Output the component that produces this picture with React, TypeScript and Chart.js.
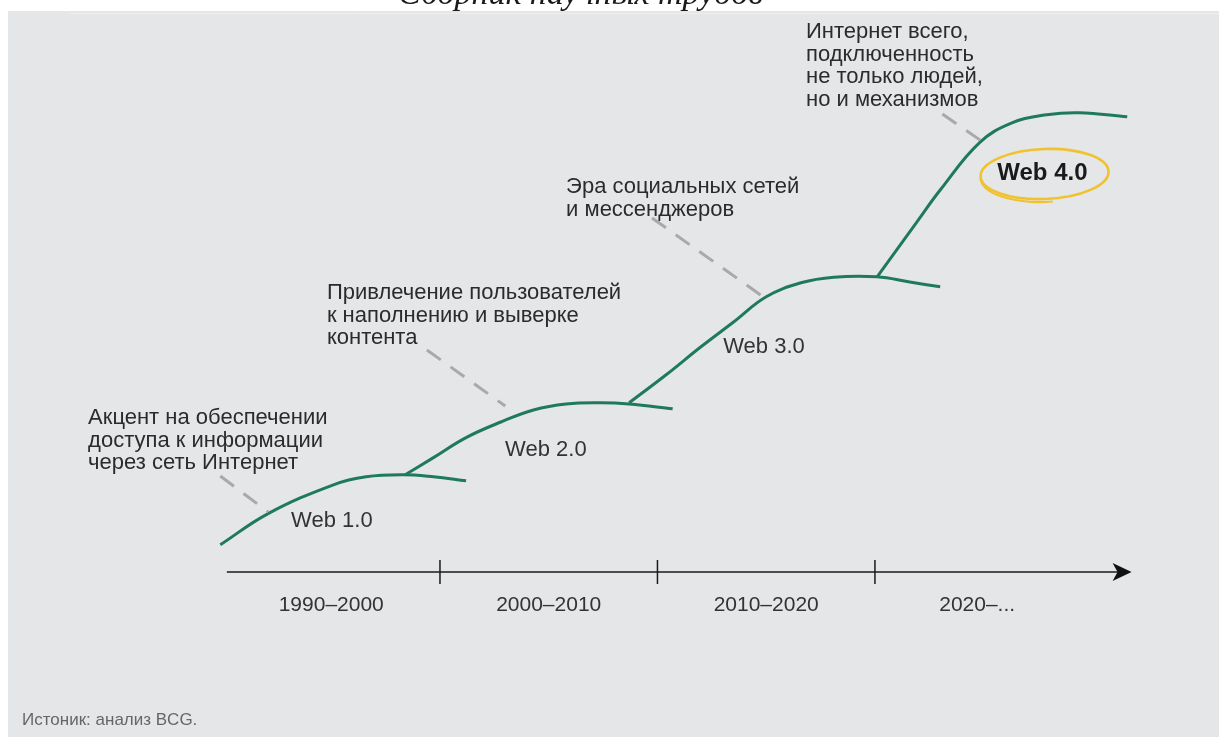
import React, { useEffect, useRef } from "react";
import { Chart, registerables } from "chart.js";

Chart.register(...registerables);

// ---- scale ranges (years on x, "development level" on y) ----
const X_MIN = 1979.77;
const X_MAX = 2035.82;
const Y_MIN = -41.25;
const Y_MAX = 143;

// ---- curves ----
const web1Years = [1989.9, 1992.1, 1995.1, 1996.6, 1998.3, 1999.7, 2001.2];
const web1Levels = [6.8, 14.6, 21.8, 23.8, 24.3, 23.8, 22.8];

const web2Years = [1998.4, 1999.7, 2001.2, 2002.8, 2004.3, 2005.8, 2007.4, 2008.7, 2010.7];
const web2Levels = [24.3, 28.6, 33.6, 37.5, 40.5, 42.0, 42.3, 42.0, 40.8];

const web3Years = [2008.7, 2010.4, 2012.0, 2013.5, 2015.0, 2016.6, 2018.1, 2020.1, 2021.6, 2023.0];
const web3Levels = [42.3, 49.3, 56.3, 62.5, 68.8, 72.3, 73.7, 73.8, 72.5, 71.3];

const web4Years = [2020.1, 2021.9, 2023.0, 2024.8, 2026.3, 2027.9, 2029.4, 2031.6];
const web4Levels = [73.8, 87.3, 95.5, 107.3, 112.3, 114.3, 114.8, 113.8];

// ---- dashed leader lines ----
const leaderYears = [
  [1989.9, 1992.1],
  [1999.4, 2003.0],
  [2009.75, 2014.94],
  [2023.1, 2025.1],
];
const leaderLevels = [
  [24.0, 15.0],
  [55.5, 41.5],
  [88.5, 68.5],
  [114.5, 107.0],
];

// ---- timeline ----
const timelineStart = 1990.2;
const timelineEnd = 2031.8;
const eraBounds = [2000, 2010, 2020];
const eraLabels = ["1990–2000", "2000–2010", "2010–2020", "2020–..."];
const eraLabelYears = [1995, 2005, 2015, 2024.7];

// ---- stage labels ----
const stageLabels = ["Web 1.0", "Web 2.0", "Web 3.0", "Web 4.0"];
const stageYears = [1995.03, 2004.87, 2014.9, 2027.7];
const stageLevels = [12.75, 30.5, 56.25, 99.75];

// ---- annotations ----
const annotationLines = [
  ["Акцент на обеспечении", "доступа к информации", "через сеть Интернет"],
  ["Привлечение пользователей", "к наполнению и выверке", "контента"],
  ["Эра социальных сетей", "и мессенджеров"],
  ["Интернет всего,", "подключенность", "не только людей,", "но и механизмов"],
];
const annotationYears = [1983.82, 1994.8, 2005.8, 2016.83];
const annotationLevels = [38.5, 69.75, 96.25, 135];

const highlightYear = 2027.8;
const highlightLevel = 99.5;

const headerText = "Сборник научных трудов";
const sourceText = "Истоник: анализ BCG.";

const GREEN = "#1f7a5c";
const DASH = "#a8a9aa";
const SANS = '"Liberation Sans", Arial, sans-serif';

const pts = (xs: number[], ys: number[]) => xs.map((x, i) => ({ x, y: ys[i] }));

const decorPlugin = {
  id: "decor",
  beforeDraw(chart: any) {
    const ctx = chart.ctx as CanvasRenderingContext2D;
    const w = chart.width;
    const h = chart.height;
    ctx.save();
    ctx.fillStyle = "#ffffff";
    ctx.fillRect(0, 0, w, h);
    ctx.fillStyle = "#e4e6e8";
    ctx.fillRect(8, 11, w - 8, h - 11);
    ctx.strokeStyle = "#eceef0";
    ctx.lineWidth = 1;
    ctx.beginPath();
    ctx.moveTo(70, 13.5);
    ctx.lineTo(w, 13.5);
    ctx.stroke();
    // clipped header
    ctx.fillStyle = "#1a1a1a";
    ctx.font = 'italic 34px "Liberation Serif", "DejaVu Serif", serif';
    ctx.textAlign = "left";
    ctx.textBaseline = "alphabetic";
    ctx.fillText(headerText, 398, 4, 370);
    ctx.restore();
  },
  afterDatasetsDraw(chart: any) {
    const ctx = chart.ctx as CanvasRenderingContext2D;
    const xs = chart.scales.x;
    const ys = chart.scales.y;
    const X = (v: number) => xs.getPixelForValue(v);
    const Y = (v: number) => ys.getPixelForValue(v);
    ctx.save();

    // timeline
    const ty = Y(0);
    const x0 = X(timelineStart);
    const x1 = X(timelineEnd);
    ctx.strokeStyle = "#1a1a1a";
    ctx.lineWidth = 1.6;
    ctx.beginPath();
    ctx.moveTo(x0, ty);
    ctx.lineTo(x1 - 10, ty);
    ctx.stroke();
    ctx.fillStyle = "#111";
    ctx.beginPath();
    ctx.moveTo(x1, ty);
    ctx.lineTo(x1 - 19, ty - 9);
    ctx.lineTo(x1 - 14, ty);
    ctx.lineTo(x1 - 19, ty + 9);
    ctx.closePath();
    ctx.fill();
    ctx.lineWidth = 1.5;
    eraBounds.forEach((b) => {
      const bx = X(b);
      ctx.beginPath();
      ctx.moveTo(bx, ty - 12);
      ctx.lineTo(bx, ty + 12);
      ctx.stroke();
    });
    ctx.fillStyle = "#333";
    ctx.font = `21px ${SANS}`;
    ctx.textAlign = "center";
    ctx.textBaseline = "middle";
    eraLabels.forEach((t, i) => {
      ctx.fillText(t, X(eraLabelYears[i]), ty + 33, 106);
    });

    // annotations
    ctx.fillStyle = "#2b2b2b";
    ctx.textAlign = "left";
    ctx.font = `22px ${SANS}`;
    annotationLines.forEach((lines, i) => {
      const ax = X(annotationYears[i]);
      const ay = Y(annotationLevels[i]);
      lines.forEach((ln, j) => {
        ctx.fillText(ln, ax, ay + j * 22.5);
      });
    });

    // highlight ellipse
    const hx = X(highlightYear);
    const hy = Y(highlightLevel);
    ctx.strokeStyle = "#f1c22f";
    ctx.lineWidth = 2.6;
    ctx.beginPath();
    ctx.ellipse(hx, hy, 64, 25, -0.04, Math.PI * 0.75, Math.PI * 2.75);
    ctx.stroke();
    ctx.lineWidth = 2.2;
    ctx.beginPath();
    ctx.ellipse(hx - 2, hy + 3, 62, 25, -0.02, Math.PI * 0.45, Math.PI * 1.0);
    ctx.stroke();

    // stage labels
    ctx.textAlign = "center";
    ctx.textBaseline = "middle";
    stageLabels.forEach((t, i) => {
      const last = i === stageLabels.length - 1;
      ctx.fillStyle = last ? "#1a1a1a" : "#333";
      ctx.font = last ? `bold 24px ${SANS}` : `22px ${SANS}`;
      ctx.fillText(t, X(stageYears[i]), Y(stageLevels[i]), last ? 93 : 82);
    });

    // source
    ctx.fillStyle = "#666";
    ctx.textAlign = "left";
    ctx.font = `17px ${SANS}`;
    ctx.fillText(sourceText, 22, 720);

    ctx.restore();
  },
};

export default function App() {
  const ref = useRef<HTMLCanvasElement | null>(null);
  useEffect(() => {
    document.body.style.margin = "0";
    if (!ref.current) return;
    const curve = (data: any) => ({
      data,
      borderColor: GREEN,
      borderWidth: 3,
      pointRadius: 0,
      fill: false,
      tension: 0.4,
    });
    const leader = (i: number) => ({
      data: pts(leaderYears[i], leaderLevels[i]),
      borderColor: DASH,
      borderWidth: 3,
      borderDash: [17, 12],
      pointRadius: 0,
      fill: false,
    });
    const chart = new Chart(ref.current, {
      type: "line",
      data: {
        datasets: [
          leader(0),
          leader(1),
          leader(2),
          leader(3),
          curve(pts(web1Years, web1Levels)),
          curve(pts(web2Years, web2Levels)),
          curve(pts(web3Years, web3Levels)),
          curve(pts(web4Years, web4Levels)),
        ],
      },
      options: {
        animation: false,
        responsive: false,
        devicePixelRatio: 1,
        layout: { padding: 0 },
        parsing: false as any,
        scales: {
          x: { type: "linear", min: X_MIN, max: X_MAX, display: false },
          y: { type: "linear", min: Y_MIN, max: Y_MAX, display: false },
        },
        plugins: { legend: { display: false }, tooltip: { enabled: false } },
      },
      plugins: [decorPlugin],
    });
    return () => chart.destroy();
  }, []);
  return (
    <div style={{ position: "fixed", left: 0, top: 0, width: 1219, height: 737 }}>
      <canvas ref={ref} width={1219} height={737} style={{ width: 1219, height: 737 }} />
    </div>
  );
}
